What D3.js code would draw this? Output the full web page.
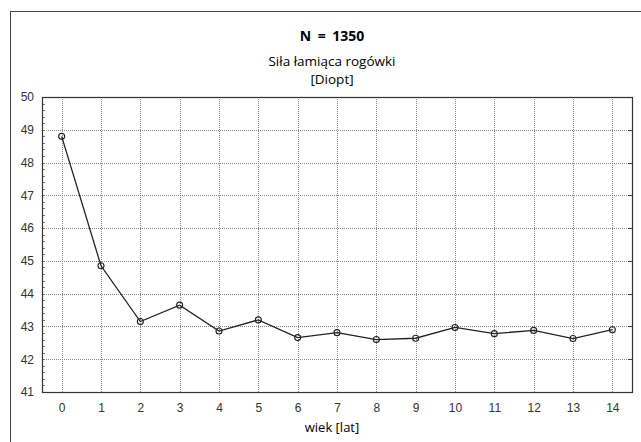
<!DOCTYPE html>
<html>
<head>
<meta charset="utf-8">
<script src="https://cdn.jsdelivr.net/npm/d3@7"></script>
<style>
  body { margin: 0; background: #fff; }
  svg { display: block; }
</style>
</head>
<body>
<div id="chart-area"></div>
<script>
const ages = [0, 1, 2, 3, 4, 5, 6, 7, 8, 9, 10, 11, 12, 13, 14];
const power = [48.8, 44.85, 43.15, 43.65, 42.86, 43.2, 42.66, 42.81, 42.6, 42.64, 42.97, 42.78, 42.88, 42.63, 42.9];
const yTicks = [41, 42, 43, 44, 45, 46, 47, 48, 49, 50];

const W = 641, H = 442;
const MARGIN = { LEFT: 42, RIGHT: 9, TOP: 97, BOTTOM: 50 };
const WIDTH = W - MARGIN.LEFT - MARGIN.RIGHT;
const HEIGHT = H - MARGIN.TOP - MARGIN.BOTTOM;

const svg = d3.select('#chart-area').append('svg')
    .attr('width', W)
    .attr('height', H);

// outer frame
svg.append("rect")
    .attr("x", 10.5).attr("y", 11.5)
    .attr("width", W).attr("height", H)
    .attr("fill", "none")
    .attr("stroke", "#444")
    .attr("stroke-width", 1);

// titles
svg.append("text")
    .attr("x", 332).attr("y", 41)
    .attr("text-anchor", "middle")
    .attr("font-family", "Open Sans, sans-serif")
    .attr("font-size", "14px")
    .attr("font-weight", "700")
    .attr("word-spacing", "3px")
    .text("N = 1350");

svg.append("text")
    .attr("x", 332).attr("y", 66)
    .attr("text-anchor", "middle")
    .attr("font-family", "Open Sans, sans-serif")
    .attr("font-size", "13.5px")
    .text("Siła łamiąca rogówki");

svg.append("text")
    .attr("x", 332).attr("y", 84)
    .attr("text-anchor", "middle")
    .attr("font-family", "Open Sans, sans-serif")
    .attr("font-size", "13.5px")
    .text("[Diopt]");

const g = svg.append("g")
    .attr("transform", `translate(${MARGIN.LEFT}, ${MARGIN.TOP})`);

const x = d3.scaleLinear()
    .domain([-0.5, 14.5])
    .range([0, WIDTH]);

const y = d3.scaleLinear()
    .domain([41, 50])
    .range([HEIGHT, 0]);

// grid
g.append("g")
    .selectAll("line")
    .data(ages)
    .join("line")
    .attr("x1", d => Math.round(x(d)) + 0.5)
    .attr("x2", d => Math.round(x(d)) + 0.5)
    .attr("y1", 0).attr("y2", HEIGHT)
    .attr("stroke", "#888")
    .attr("stroke-dasharray", "1,1");

g.append("g")
    .selectAll("line")
    .data(yTicks.slice(1, -1))
    .join("line")
    .attr("y1", d => Math.round(y(d)) + 0.5)
    .attr("y2", d => Math.round(y(d)) + 0.5)
    .attr("x1", 0).attr("x2", WIDTH)
    .attr("stroke", "#888")
    .attr("stroke-dasharray", "1,1");

// minor ticks on left axis
const minor = d3.range(41, 50.01, 0.2);
g.append("g")
    .selectAll("line")
    .data(minor)
    .join("line")
    .attr("x1", 0).attr("x2", 3)
    .attr("y1", d => Math.round(y(d)) + 0.5)
    .attr("y2", d => Math.round(y(d)) + 0.5)
    .attr("stroke", "#777");

// right axis ticks
g.append("g")
    .selectAll("line")
    .data(yTicks)
    .join("line")
    .attr("x1", WIDTH - 4).attr("x2", WIDTH)
    .attr("y1", d => Math.round(y(d)) + 0.5)
    .attr("y2", d => Math.round(y(d)) + 0.5)
    .attr("stroke", "#444");

// axes box
g.append("rect")
    .attr("x", 0.5).attr("y", 0.5)
    .attr("width", WIDTH).attr("height", HEIGHT)
    .attr("fill", "none")
    .attr("stroke", "#333")
    .attr("stroke-width", 1.2);

// X axis
const xAxisCall = d3.axisBottom(x)
    .tickValues(ages)
    .tickSize(0)
    .tickPadding(11)
    .tickFormat(d3.format("d"));
const xAxis = g.append("g")
    .attr("transform", `translate(0, ${HEIGHT})`)
    .call(xAxisCall);
xAxis.select(".domain").remove();
xAxis.selectAll("text")
    .attr("font-family", "Liberation Sans, Arial, sans-serif")
    .attr("font-size", "12px")
    .attr("fill", "#333");

// Y axis
const yAxisCall = d3.axisLeft(y)
    .tickValues(yTicks)
    .tickSize(0)
    .tickPadding(8)
    .tickFormat(d3.format("d"));
const yAxis = g.append("g").call(yAxisCall);
yAxis.select(".domain").remove();
yAxis.selectAll("text")
    .attr("font-family", "Liberation Sans, Arial, sans-serif")
    .attr("font-size", "12px")
    .attr("fill", "#333");

// x label
svg.append("text")
    .attr("x", 332).attr("y", 432)
    .attr("text-anchor", "middle")
    .attr("font-family", "Open Sans, sans-serif")
    .attr("font-size", "13px")
    .text("wiek [lat]");

// line + markers
const data = ages.map((a, i) => ({ age: a, value: power[i] }));

g.append("path")
    .datum(data)
    .attr("fill", "none")
    .attr("stroke", "#222")
    .attr("stroke-width", 1.3)
    .attr("d", d3.line().x(d => x(d.age)).y(d => y(d.value)));

g.selectAll("circle")
    .data(data)
    .join("circle")
    .attr("cx", d => x(d.age))
    .attr("cy", d => y(d.value))
    .attr("r", 3)
    .attr("fill", "none")
    .attr("stroke", "#222")
    .attr("stroke-width", 1.1);
</script>
</body>
</html>
